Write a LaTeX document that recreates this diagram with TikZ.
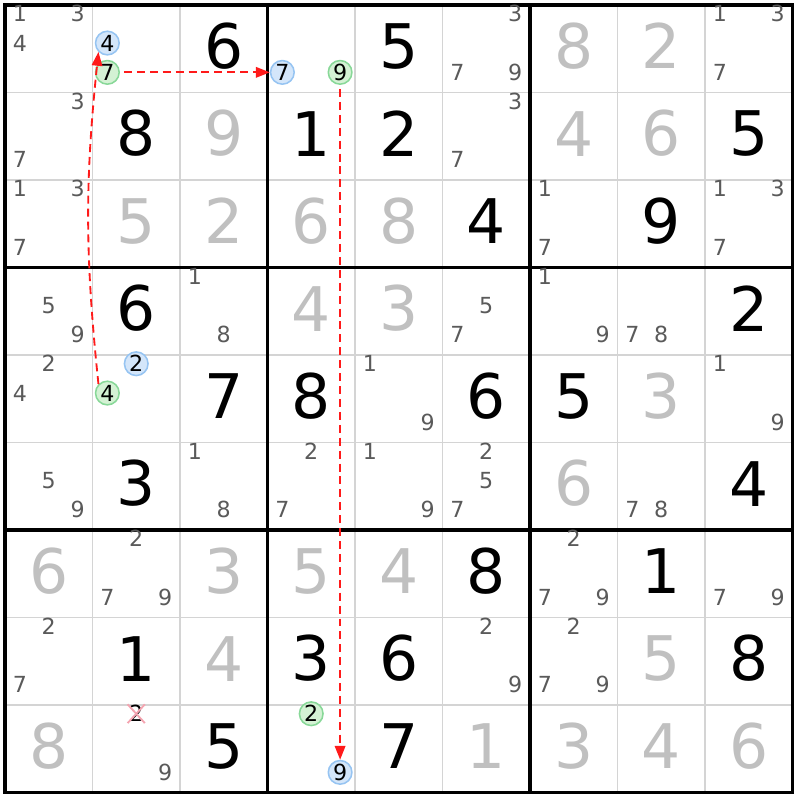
\documentclass[tikz,border=0pt]{standalone}
\usepackage{fontspec}
\setmainfont{DejaVu Sans}
\usetikzlibrary{arrows.meta,shapes.misc}
\definecolor{gridgray}{HTML}{D4D4D4}
\definecolor{candgray}{HTML}{5A5A5A}
\definecolor{solvedgray}{HTML}{C0C0C0}
\definecolor{onfill}{HTML}{D4F2D4}
\definecolor{ondraw}{HTML}{88D898}
\definecolor{offfill}{HTML}{D4E6FA}
\definecolor{offdraw}{HTML}{96C4F2}
\definecolor{elimpink}{HTML}{F4A4B0}
\definecolor{linkred}{HTML}{FF1A1A}

\begin{document}
\begin{tikzpicture}[x=1cm, y=-1cm,
    given/.style={font=\fontsize{20}{20}\selectfont, text=black, inner sep=0pt},
    solved/.style={given, text=solvedgray},
    cand/.style={font=\fontsize{7.2}{7.2}\selectfont, text=candgray, inner sep=0pt},
    linkon/.style={cand, text=black, circle, draw=ondraw, fill=onfill, line width=0.5pt, minimum size=0.27cm},
    linkoff/.style={linkon, draw=offdraw, fill=offfill},
    elim/.style={cand, text=black, cross out, draw=elimpink, line width=0.6pt, minimum width=5pt, minimum height=5.5pt},
    link/.style={draw=linkred, dash pattern=on 2.6pt off 1.6pt, line width=0.6pt, -{Triangle[length=4.5pt,width=3.4pt]}}
]
    \fill[white] (-0.057,-0.057) rectangle (9.086,9.086);
    \useasboundingbox (-0.057,-0.057) rectangle (9.086,9.086);

    % grid
    \foreach \i in {1,...,8} {
        \draw[gridgray, line width=0.6pt] (\i,0) -- (\i,9);
        \draw[gridgray, line width=0.6pt] (0,\i) -- (9,\i);
    }
    \foreach \i in {3,6} {
        \draw[line width=1pt] (\i,0) -- (\i,9);
        \draw[line width=1pt] (0,\i) -- (9,\i);
    }
    \draw[line width=1pt] (0,0) rectangle (9,9);

    % givens and solved cells
    \foreach \r/\c/\d/\s in {1/3/6/given, 1/5/5/given, 1/7/8/solved, 1/8/2/solved,
        2/2/8/given, 2/3/9/solved, 2/4/1/given, 2/5/2/given, 2/7/4/solved, 2/8/6/solved, 2/9/5/given,
        3/2/5/solved, 3/3/2/solved, 3/4/6/solved, 3/5/8/solved, 3/6/4/given, 3/8/9/given,
        4/2/6/given, 4/4/4/solved, 4/5/3/solved, 4/9/2/given,
        5/3/7/given, 5/4/8/given, 5/6/6/given, 5/7/5/given, 5/8/3/solved,
        6/2/3/given, 6/7/6/solved, 6/9/4/given,
        7/1/6/solved, 7/3/3/solved, 7/4/5/solved, 7/5/4/solved, 7/6/8/given, 7/8/1/given,
        8/2/1/given, 8/3/4/solved, 8/4/3/given, 8/5/6/given, 8/8/5/solved, 8/9/8/given,
        9/1/8/solved, 9/3/5/given, 9/5/7/given, 9/6/1/solved, 9/7/3/solved, 9/8/4/solved, 9/9/6/solved}
        \node[\s] (val\r\c) at ({\c-0.5}, {\r-0.53}) {\d};

    % candidates
    \foreach \r/\c/\d/\s [evaluate=\d as \dx using {0.33*(mod(\d-1,3)-1)},
                          evaluate=\d as \dy using {0.335*(floor((\d-1)/3)-1)-0.065}] in {
        1/1/1/cand, 1/1/3/cand, 1/1/4/cand, 1/2/4/linkoff, 1/2/7/linkon, 1/4/7/linkoff, 1/4/9/linkon,
        1/6/3/cand, 1/6/7/cand, 1/6/9/cand, 1/9/1/cand, 1/9/3/cand, 1/9/7/cand,
        2/1/3/cand, 2/1/7/cand, 2/6/3/cand, 2/6/7/cand,
        3/1/1/cand, 3/1/3/cand, 3/1/7/cand, 3/7/1/cand, 3/7/7/cand, 3/9/1/cand, 3/9/3/cand, 3/9/7/cand,
        4/1/5/cand, 4/1/9/cand, 4/3/1/cand, 4/3/8/cand, 4/6/5/cand, 4/6/7/cand,
        4/7/1/cand, 4/7/9/cand, 4/8/7/cand, 4/8/8/cand,
        5/1/2/cand, 5/1/4/cand, 5/2/2/linkoff, 5/2/4/linkon, 5/5/1/cand, 5/5/9/cand, 5/9/1/cand, 5/9/9/cand,
        6/1/5/cand, 6/1/9/cand, 6/3/1/cand, 6/3/8/cand, 6/4/2/cand, 6/4/7/cand, 6/5/1/cand, 6/5/9/cand,
        6/6/2/cand, 6/6/5/cand, 6/6/7/cand, 6/8/7/cand, 6/8/8/cand,
        7/2/2/cand, 7/2/7/cand, 7/2/9/cand, 7/7/2/cand, 7/7/7/cand, 7/7/9/cand, 7/9/7/cand, 7/9/9/cand,
        8/1/2/cand, 8/1/7/cand, 8/6/2/cand, 8/6/9/cand, 8/7/2/cand, 8/7/7/cand, 8/7/9/cand,
        9/2/2/elim, 9/2/9/cand, 9/4/2/linkon, 9/4/9/linkoff}
        \node[\s] (cand\r\c\d) at ({\c-0.5+(\dx)}, {\r-0.5+(\dy)}) {\d};

    % chain
    \draw[link] (cand524.north west) to[bend left=6] (cand124.south west);
    \draw[link, shorten <=1.3pt] (cand127) -- (cand147);
    \draw[link, shorten <=1.3pt] (cand149) -- (cand949);
\end{tikzpicture}
\end{document}
